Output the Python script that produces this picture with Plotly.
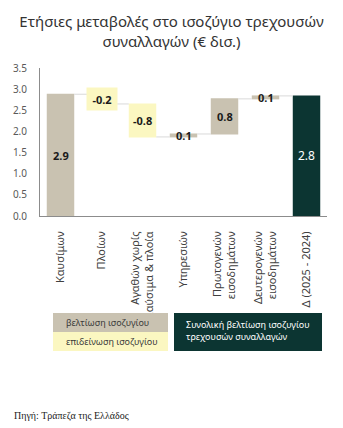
import plotly.graph_objects as go
import numpy as np

categories = ["Καυσίμων", "Πλοίων", "Αγαθών χωρίς<br>καύσιμα & πλοία", "Υπηρεσιών",
              "Πρωτογενών<br>εισοδημάτων", "Δευτερογενών<br>εισοδημάτων", "Δ (2025 - 2024)"]
values = [2.88, -0.23, -0.78, 0.07, 0.83, 0.07, 0]
measures = ["relative", "relative", "relative", "relative", "relative", "relative", "total"]
labels = ["2.9", "-0.2", "-0.8", "0.1", "0.8", "0.1", "2.8"]

C_UP = "#c9c2b1"
C_DOWN = "#fbf7c1"
C_TOT = "#0c3532"
FONT = "Noto Sans"

fig = go.Figure(go.Waterfall(
    x=categories, y=values, measure=measures,
    increasing=dict(marker=dict(color=C_UP)),
    decreasing=dict(marker=dict(color=C_DOWN)),
    totals=dict(marker=dict(color=C_TOT)),
    connector=dict(line=dict(color="#d9d9d9", width=1)),
    width=0.67, hoverinfo="skip", textinfo="none",
))

# label positions from cumulative data
cum = np.cumsum(values[:-1])
total = cum[-1]
mids = []
prev = 0.0
for c in cum:
    mids.append((prev + c) / 2)
    prev = c
mids.append(total / 2)

for i, (cat, m, lab) in enumerate(zip(categories, mids, labels)):
    if i == len(categories) - 1:
        fig.add_annotation(x=cat, y=m, text=lab, showarrow=False,
                           font=dict(family=FONT, size=12, color="white"))
    elif i == 1:
        fig.add_annotation(x=cat, y=m, text="<b>" + lab + "</b>", showarrow=False,
                           bgcolor=C_DOWN, width=28, height=20,
                           font=dict(family=FONT, size=11, color="#1a1a1a"))
    else:
        fig.add_annotation(x=cat, y=m, text="<b>" + lab + "</b>", showarrow=False,
                           font=dict(family=FONT, size=11, color="#1a1a1a"))

W, H = 343, 428
L, R, T, B = 40, 16, 68, 212
pw, ph = W - L - R, H - T - B

def px(x):
    return (x - L) / pw

def py(y):
    return (H - B - y) / ph

# legend boxes
fig.add_shape(type="rect", xref="paper", yref="paper", x0=px(53), x1=px(168), y0=py(332), y1=py(313),
              fillcolor=C_UP, line=dict(width=0))
fig.add_shape(type="rect", xref="paper", yref="paper", x0=px(53), x1=px(168), y0=py(351), y1=py(332),
              fillcolor=C_DOWN, line=dict(width=0))
fig.add_shape(type="rect", xref="paper", yref="paper", x0=px(174), x1=px(322), y0=py(351), y1=py(313),
              fillcolor=C_TOT, line=dict(width=0))
fig.add_annotation(xref="paper", yref="paper", x=px(64), y=py(322.5), xanchor="left", yanchor="middle",
                   text="βελτίωση ισοζυγίου", showarrow=False,
                   font=dict(family=FONT, size=9, color="#3a3a3a"))
fig.add_annotation(xref="paper", yref="paper", x=px(64), y=py(341.5), xanchor="left", yanchor="middle",
                   text="επιδείνωση ισοζυγίου", showarrow=False,
                   font=dict(family=FONT, size=9, color="#3a3a3a"))
fig.add_annotation(xref="paper", yref="paper", x=px(184), y=py(330), xanchor="left", yanchor="middle",
                   text="Συνολική βελτίωση ισοζυγίου<br>τρεχουσών συναλλαγών", showarrow=False, align="left",
                   font=dict(family=FONT, size=9, color="white"))
fig.add_annotation(xref="paper", yref="paper", x=px(12), y=py(416), xanchor="left", yanchor="middle",
                   text="Πηγή: Τράπεζα της Ελλάδος", showarrow=False,
                   font=dict(family="Liberation Serif", size=10, color="#222222"))

fig.update_layout(
    width=W, height=H, margin=dict(l=L, r=R, t=T, b=B),
    paper_bgcolor="white", plot_bgcolor="white", showlegend=False,
    title=dict(text="Ετήσιες μεταβολές στο ισοζύγιο τρεχουσών<br>συναλλαγών (€ δισ.)",
               x=0.5, xanchor="center", y=1 - 27 / H, yanchor="middle",
               font=dict(family=FONT, size=15, color="#333333")),
)
fig.update_xaxes(tickangle=-90, showline=True, linecolor="#8c8c8c", linewidth=1,
                 showgrid=False, ticks="", tickfont=dict(family=FONT, size=11, color="#404040"),
                 ticklabelstandoff=10, range=[-0.5, 6.5])
fig.update_yaxes(range=[0, 3.5], dtick=0.5, tickformat=".1f", showline=True, linecolor="#8c8c8c",
                 linewidth=1, showgrid=False, zeroline=False, ticks="", ticklabelstandoff=10,
                 tickfont=dict(family=FONT, size=10, color="#595959"))

fig.write_html("out.html")
